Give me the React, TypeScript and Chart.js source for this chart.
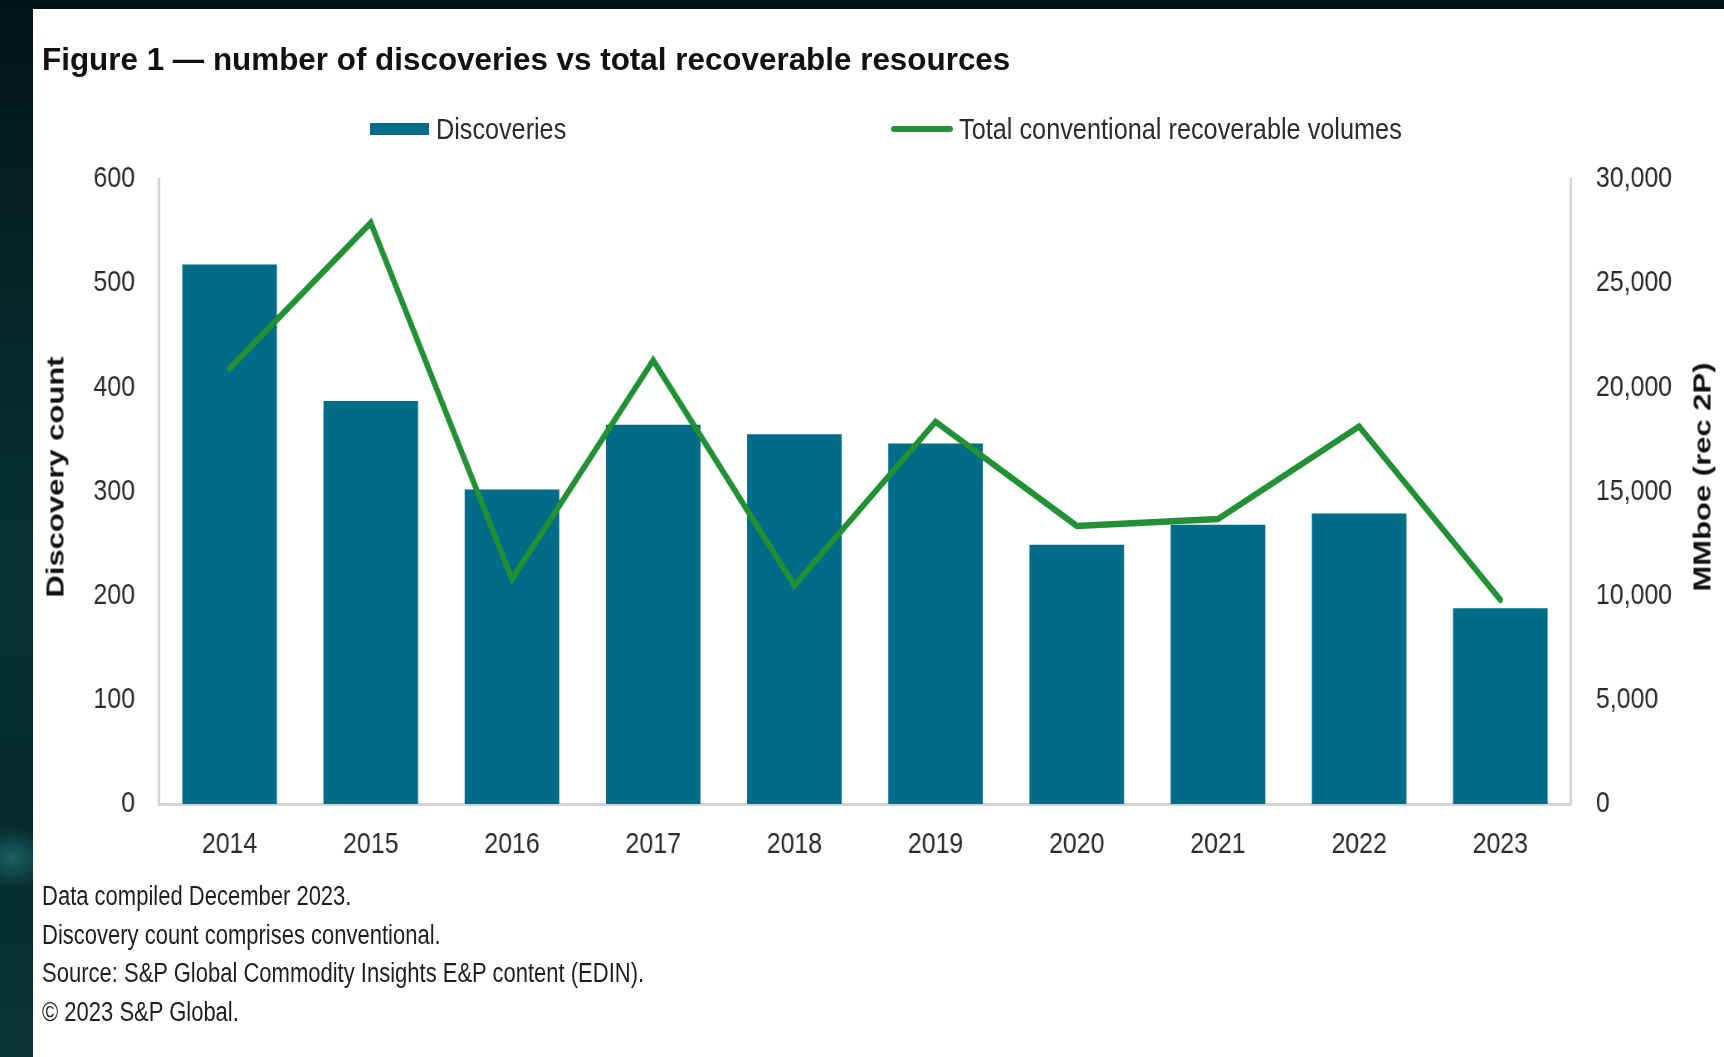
import React, { useEffect, useRef } from 'react';
import { Chart, registerables } from 'chart.js';

Chart.register(...registerables);

// ---- data ----
const years = ['2014', '2015', '2016', '2017', '2018', '2019', '2020', '2021', '2022', '2023'];
const discoveries = [518, 387, 302, 364, 355, 346, 249, 268, 279, 188];
const volumes = [20900, 27900, 10800, 21300, 10500, 18350, 13350, 13680, 18120, 9800];
const leftMax = 600;
const leftStep = 100;
const rightMax = 30000;
const rightStep = 5000;

const titleText = 'Figure 1 \u2014 number of discoveries vs total recoverable resources';
const barLabel = 'Discoveries';
const lineLabel = 'Total conventional recoverable volumes';
const leftTitle = 'Discovery count';
const rightTitle = 'MMboe (rec 2P)';
const footnotes = [
  'Data compiled December 2023.',
  'Discovery count comprises conventional.',
  'Source: S&P Global Commodity Insights E&P content (EDIN).',
  '\u00A9 2023 S&P Global.',
];

// ---- styling / layout ----
const BAR = '#016c88';
const GREEN = '#229034';
const AXIS = '#d4d4d4';
const TEXT = '#2b2b2b';
const SANS = "'Liberation Sans', Arial, sans-serif";
const W = 1724;
const H = 1057;
const K = 0.83; // horizontal condensation of the rendered figure
const CW = Math.round(W / K);

export default function App() {
  const ref = useRef<HTMLCanvasElement>(null);

  useEffect(() => {
    const canvas = ref.current;
    if (!canvas) return;
    const tickFont = { family: SANS, size: 30 };
    const chart = new Chart(canvas, {
      type: 'bar',
      data: {
        labels: years,
        datasets: [
          {
            type: 'line',
            label: lineLabel,
            data: volumes,
            yAxisID: 'y1',
            borderColor: GREEN,
            backgroundColor: GREEN,
            borderWidth: 6.5,
            pointRadius: 0,
            tension: 0,
            borderJoinStyle: 'miter',
            borderCapStyle: 'round',
            order: 0,
          } as any,
          {
            type: 'bar',
            label: barLabel,
            data: discoveries,
            yAxisID: 'y',
            backgroundColor: BAR,
            barPercentage: 0.67,
            categoryPercentage: 1,
            order: 1,
          } as any,
        ],
      },
      options: {
        responsive: false,
        animation: false,
        devicePixelRatio: 1,
        layout: { padding: { top: 179, left: 0, right: 0, bottom: 0 } },
        plugins: {
          legend: { display: false },
          tooltip: { enabled: false },
          title: { display: false },
        },
        scales: {
          x: {
            grid: { display: false, drawTicks: false },
            border: { display: true, color: AXIS, width: 3 },
            ticks: { font: tickFont, color: TEXT, padding: 23, maxRotation: 0 },
            afterFit: (s: any) => { s.height = H - 804; },
          },
          y: {
            position: 'left',
            min: 0,
            max: leftMax,
            grid: { display: false, drawTicks: false },
            border: { display: true, color: AXIS, width: 3 },
            ticks: { stepSize: leftStep, font: tickFont, color: TEXT, padding: 24 / K },
            afterFit: (s: any) => { s.width = 159 / K; },
          },
          y1: {
            position: 'right',
            min: 0,
            max: rightMax,
            grid: { display: false, drawTicks: false },
            border: { display: true, color: AXIS, width: 3 },
            ticks: {
              stepSize: rightStep,
              font: tickFont,
              color: TEXT,
              padding: 25 / K,
              callback: (v: any) => Number(v).toLocaleString('en-US'),
            },
            afterFit: (s: any) => { s.width = (W - 1571) / K; },
          },
        },
      } as any,
    });
    return () => chart.destroy();
  }, []);

  const abs = (o: React.CSSProperties): React.CSSProperties => ({ position: 'absolute', ...o });
  const narrow = (k: number): React.CSSProperties => ({ transform: `scaleX(${k})`, transformOrigin: '0 50%' });

  return (
    <div
      style={abs({
        left: 0,
        top: 0,
        width: W,
        height: H,
        overflow: 'hidden',
        background:
          'radial-gradient(ellipse 40px 30px at 12px 858px, rgba(40,140,140,0.55), rgba(0,0,0,0)), linear-gradient(180deg, #021418 0%, #052628 30%, #083438 55%, #062b2e 75%, #0a3536 100%)',
      })}
    >
      <div style={abs({ left: 33, top: 9, right: 0, bottom: 0, background: '#ffffff' })} />
      <div style={abs({ left: 0, top: 0, width: CW, height: H, transform: `scaleX(${K})`, transformOrigin: '0 0' })}>
        <canvas ref={ref} width={CW} height={H} style={{ display: 'block' }} />
      </div>

      <div
        style={abs({
          left: 42,
          top: 42,
          font: `bold 31.4px ${SANS}`,
          lineHeight: '36px',
          color: '#111',
          whiteSpace: 'nowrap',
        })}
      >
        {titleText}
      </div>

      {/* legend */}
      <div style={abs({ left: 370, top: 123, width: 59, height: 12, background: BAR })} />
      <div style={abs({ left: 436, top: 111, font: `30px ${SANS}`, lineHeight: '36px', color: TEXT, whiteSpace: 'nowrap', ...narrow(0.84) })}>
        {barLabel}
      </div>
      <div style={abs({ left: 891, top: 126, width: 62, height: 6, background: GREEN, borderRadius: 3 })} />
      <div style={abs({ left: 959, top: 111, font: `30px ${SANS}`, lineHeight: '36px', color: TEXT, whiteSpace: 'nowrap', ...narrow(0.843) })}>
        {lineLabel}
      </div>

      {/* axis titles */}
      <div
        style={abs({
          left: 56,
          top: 477,
          font: `bold 31px ${SANS}`,
          lineHeight: '34px',
          color: '#111',
          whiteSpace: 'nowrap',
          transform: 'translate(-50%, -50%) rotate(-90deg) scaleY(0.75)',
        })}
      >
        {leftTitle}
      </div>
      <div
        style={abs({
          left: 1703,
          top: 477,
          font: `bold 31px ${SANS}`,
          lineHeight: '34px',
          color: '#111',
          whiteSpace: 'nowrap',
          transform: 'translate(-50%, -50%) rotate(-90deg) scaleY(0.75)',
        })}
      >
        {rightTitle}
      </div>

      {/* footnotes */}
      <div style={abs({ left: 42, top: 877, font: `27px ${SANS}`, lineHeight: '38.5px', color: '#1e1e1e', whiteSpace: 'nowrap', transform: 'scaleX(0.815)', transformOrigin: '0 0' })}>
        {footnotes.map((f, i) => (
          <div key={i}>{f}</div>
        ))}
      </div>
    </div>
  );
}
